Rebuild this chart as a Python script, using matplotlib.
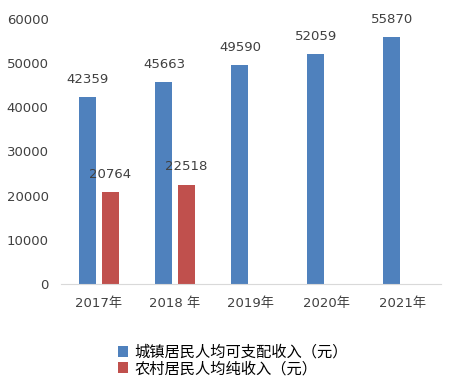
import numpy as np
import matplotlib
matplotlib.use('Agg')
import matplotlib.pyplot as plt

plt.rcParams['font.family'] = ['DejaVu Sans', 'Noto Sans CJK SC']

years = ['2017年', '2018 年', '2019年', '2020年', '2021年']
urban = [42359, 45663, 49590, 52059, 55870]
rural = [20764, 22518]
urban_name = '城镇居民人均可支配收入（元）'
rural_name = '农村居民人均纯收入（元）'

blue = '#4F81BD'
red = '#C0504D'
txt = '#404040'

fig = plt.figure(figsize=(4.62, 3.86), dpi=100)
ax = fig.add_axes([61 / 462, 102 / 386, 380 / 462, 265 / 386])

x = np.arange(len(years))
w = 0.224
off = 0.145
b1 = ax.bar(x - off, urban, w, color=blue, label=urban_name)
b2 = ax.bar(x[:len(rural)] + off, rural, w, color=red, label=rural_name)

# value labels above every bar
for rect, v in zip(list(b1) + list(b2), urban + rural):
    ax.annotate(str(v), (rect.get_x() + rect.get_width() / 2, v),
                xytext=(0, 8), textcoords='offset points',
                ha='center', va='bottom', fontsize=9.5, color=txt)

ax.set_xlim(-0.5, len(years) - 0.5)
ax.set_ylim(0, 60000)
ax.set_yticks(range(0, 60001, 10000))
ax.set_xticks(x)
ax.set_xticklabels(years)
ax.tick_params(axis='both', length=0, labelsize=9.5, labelcolor=txt)
ax.tick_params(axis='x', pad=9)
ax.tick_params(axis='y', pad=9)
for s in ['top', 'right', 'left']:
    ax.spines[s].set_visible(False)
ax.spines['bottom'].set_color('#D9D9D9')

fig.legend(loc='upper left', bbox_to_anchor=(110 / 462, 1 - 337 / 386),
           frameon=False, fontsize=11, handlelength=0.7, handleheight=0.7,
           handletextpad=0.4, labelspacing=0.1, borderpad=0)

fig.savefig('out.png', dpi=100)
